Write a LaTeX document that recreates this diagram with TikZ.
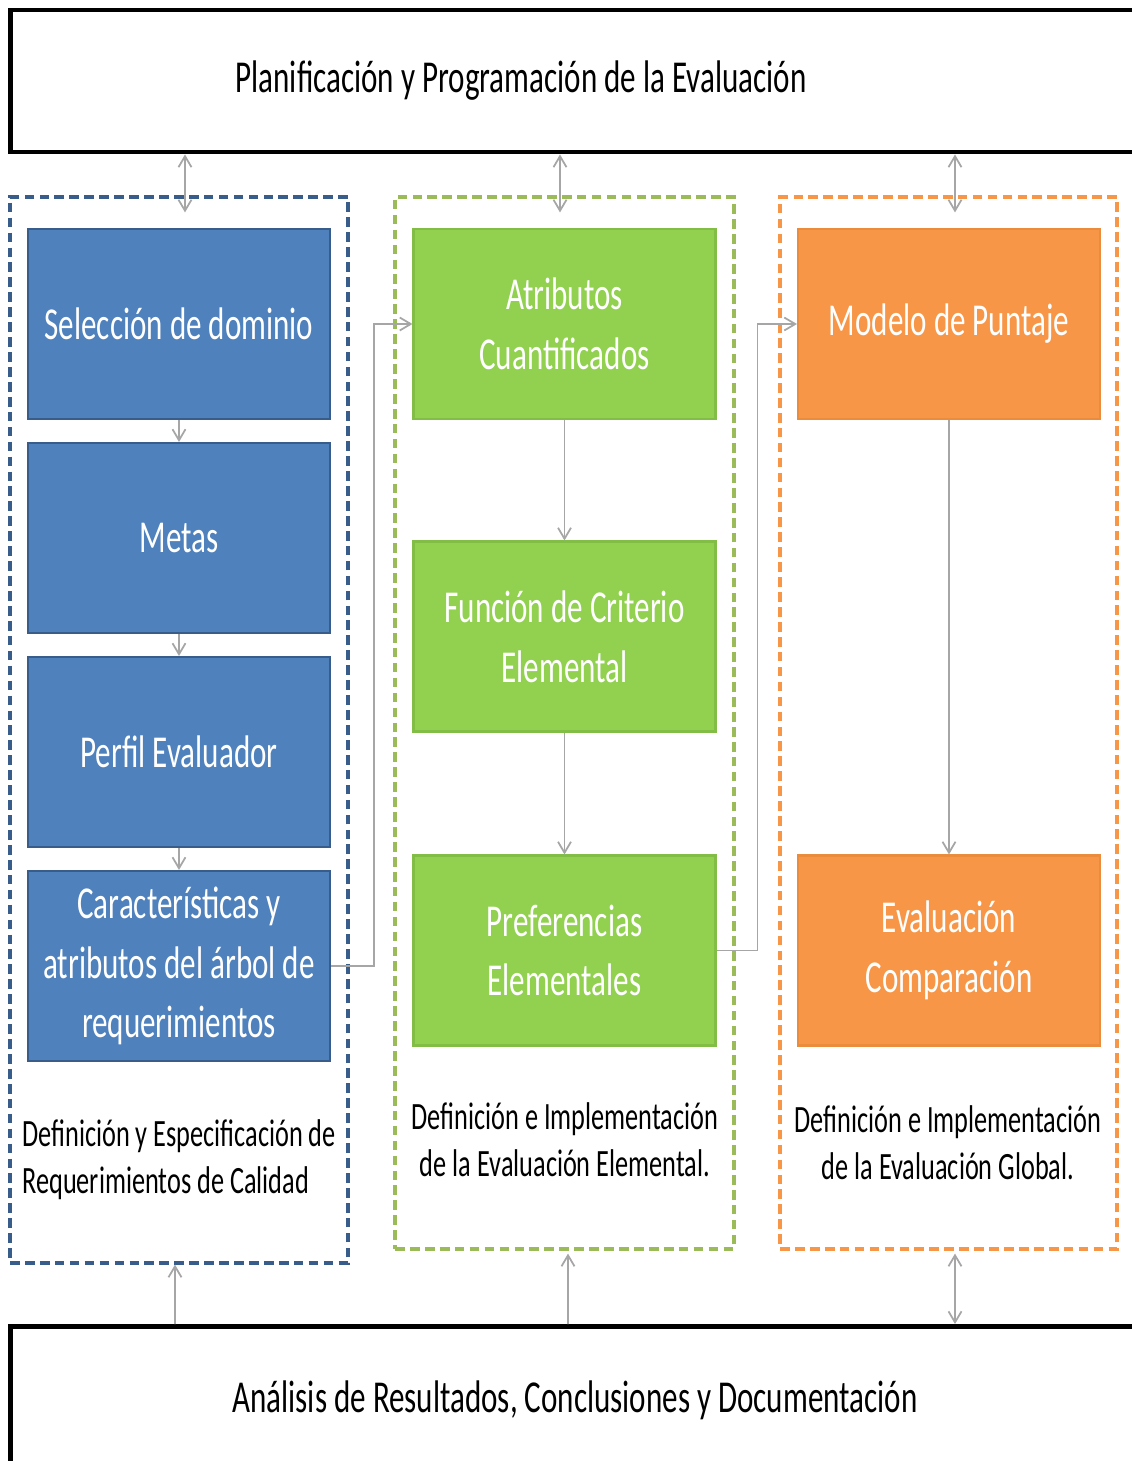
\documentclass[tikz,border=0pt]{standalone}
\usepackage{fontspec}
\setmainfont{Carlito}[FakeStretch=0.68]
\usetikzlibrary{arrows.meta,positioning,calc}
\definecolor{bfill}{RGB}{79,129,189}
\definecolor{bline}{RGB}{56,93,138}
\definecolor{gfill}{RGB}{146,208,80}
\definecolor{gline}{RGB}{130,190,70}
\definecolor{gdash}{RGB}{155,187,89}
\definecolor{ofill}{RGB}{247,150,70}
\definecolor{oline}{RGB}{235,140,60}
\definecolor{wire}{RGB}{166,166,166}
\tikzset{
  arr/.style={-{Straight Barb[length=2.2mm,width=2.6mm]},line width=1pt,draw=wire},
  arr2/.style={{Straight Barb[length=2.2mm,width=2.6mm]}-{Straight Barb[length=2.2mm,width=2.6mm]},line width=1pt,draw=wire},
  bigbox/.style={draw=black,line width=2.8pt,fill=white,minimum width=22.6cm,inner sep=0pt},
  headtxt/.style={font=\fontsize{26}{31}\selectfont,text=black},
  grp/.style={line width=1.9pt,dash pattern=on 5.5pt off 3pt,minimum width=6.76cm},
  blk/.style={line width=1.2pt,minimum width=6.04cm,minimum height=3.8cm,text=white,align=center,
    font=\fontsize{26}{34}\selectfont,inner sep=0pt},
  bbox/.style={blk,fill=bfill,draw=bline},
  gbox/.style={blk,fill=gfill,draw=gline},
  obox/.style={blk,fill=ofill,draw=oline},
  lab/.style={font=\fontsize{22}{26.7}\selectfont,text=black,inner sep=0pt}
}

\begin{document}
\begin{tikzpicture}[x=0.02cm,y=-0.02cm]
  \path[use as bounding box,clip] (0,0) rectangle (1132,1461);

  % top and bottom bands
  \node[bigbox,minimum height=2.84cm] (plan) at (575,81) {};
  \node[headtxt] (plantxt) at ([xshift=-1.08cm]plan.center) {Planificación y Programación de la Evaluación};
  \node[bigbox,minimum height=3.1cm,headtxt] (anal) at (575,1404) {\raisebox{0.28cm}{Análisis de Resultados, Conclusiones y Documentación}};

  % dashed groups
  \node[grp,draw=bline,minimum height=21.32cm] (defG) at (179,730) {};
  \node[grp,draw=gdash,minimum height=21.04cm,minimum width=6.78cm] (elemG) at (564.5,723) {};
  \node[grp,draw=ofill,minimum height=21.04cm,minimum width=6.74cm] (globG) at (948.5,723) {};

  % first column
  \node[bbox] (sel) at (179,324) {Selección de dominio};
  \node[bbox] (metas) at (179,538) {Metas};
  \node[bbox] (perfil) at (179,752) {Perfil Evaluador};
  \node[bbox] (carac) at (179,966) {Características y\\atributos del árbol de\\requerimientos};

  % second column
  \node[gbox] (atrib) at (564.5,324) {Atributos\\Cuantificados};
  \node[gbox] (func) at (564.5,636.5) {Función de Criterio\\Elemental};
  \node[gbox] (pref) at (564.5,950.5) {Preferencias\\Elementales};

  % third column
  \node[obox] (model) at (949,324) {Modelo de Puntaje};
  \node[obox] (evalc) at (949,950.5) {Evaluación\\Comparación};

  % group captions
  \node[lab,align=left,anchor=west] (defL) at (22,1160) {Definición y Especificación de\\Requerimientos de Calidad};
  \node[lab,align=center] (elemL) at (565,1140) {Definición e Implementación\\de la Evaluación Elemental.};
  \node[lab,align=center] (globL) at (948,1143) {Definición e Implementación\\de la Evaluación Global.};

  % flow inside the groups
  \foreach \a/\b in {sel/metas,metas/perfil,perfil/carac,atrib/func,func/pref,model/evalc}{
    \draw[arr] (\a) -- (\b);}
  \draw[arr] (carac.east) -- ++(43,0) |- (atrib.west);
  \draw[arr] (pref.east) -- ++(41,0) |- (model.west);

  % links to the bands
  \draw[arr2] (plan.south -| 185,0) -- ([xshift=0.12cm,yshift=-0.34cm]defG.north);
  \draw[arr2] (plan.south -| 560,0) -- ([xshift=-0.09cm,yshift=-0.34cm]elemG.north);
  \draw[arr2] (plan.south -| 955,0) -- ([xshift=0.13cm,yshift=-0.34cm]globG.north);
  \draw[arr] (anal.north -| 175,0) -- ([xshift=-0.08cm]defG.south);
  \draw[arr] (anal.north -| 568,0) -- ([xshift=0.07cm,yshift=-0.06cm]elemG.south);
  \draw[arr2] (anal.north -| 955,0) -- ([xshift=0.13cm,yshift=-0.06cm]globG.south);
\end{tikzpicture}
\end{document}
